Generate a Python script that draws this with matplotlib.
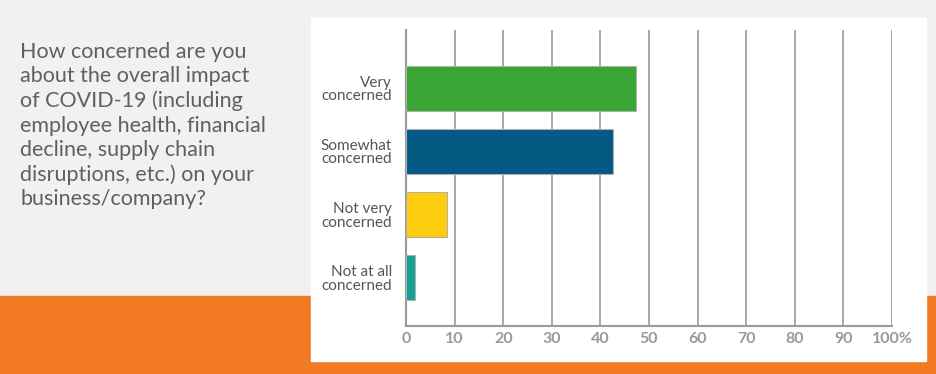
import matplotlib.pyplot as plt
from matplotlib.patches import Rectangle

# data
categories = ['Very\nconcerned', 'Somewhat\nconcerned', 'Not very\nconcerned', 'Not at all\nconcerned']
values = [47.3, 42.6, 8.4, 1.8]
colors = ['#3aa535', '#045a83', '#fecc0f', '#12a192']
ticks = [0, 10, 20, 30, 40, 50, 60, 70, 80, 90, 100]
tick_labels = ['0', '10', '20', '30', '40', '50', '60', '70', '80', '90', '100%']
question = ("How concerned are you\nabout the overall impact\nof COVID-19 (including\n"
            "employee health, financial\ndecline, supply chain\ndisruptions, etc.) on your\n"
            "business/company?")

W, H = 936, 374
fig = plt.figure(figsize=(W / 100, H / 100), dpi=100)
fig.patch.set_facecolor('#f1f1f1')

def px(x0, y0, x1, y1):
    # pixel box (top-left origin) -> figure coords
    return [x0 / W, 1 - y1 / H, (x1 - x0) / W, (y1 - y0) / H]

# orange band and white panel
b = px(0, 296, W, H)
fig.patches.append(Rectangle((b[0], b[1]), b[2], b[3], transform=fig.transFigure,
                             color='#f27a22', zorder=0))
p = px(311, 18, 926, 361)
fig.patches.append(Rectangle((p[0], p[1]), p[2], p[3], transform=fig.transFigure,
                             color='white', zorder=1))

fig.text(20 / W, 1 - 42 / H, question, ha='left', va='top', fontsize=15.5,
         color='#606060', family='Lato', linespacing=1.27)

ax = fig.add_axes(px(406, 30, 892, 326))
ax.set_facecolor('white')
ax.set_zorder(2)
ypos = list(range(len(categories)))
ax.barh(ypos, values, height=0.71, color=colors, edgecolor='#b0b0b0', linewidth=0.8, zorder=3)
ax.set_xlim(0, 100)
ax.set_ylim(3.76, -0.92)
ax.set_xticks(ticks)
ax.set_xticklabels(tick_labels, color='#999999', fontsize=11.5, fontweight='bold', family='Lato')
ax.set_yticks(ypos)
ax.set_yticklabels(categories, color='#555555', fontsize=11, family='Lato', linespacing=0.95)
ax.tick_params(length=0)
ax.tick_params(axis='x', pad=4)
ax.tick_params(axis='y', pad=10)
ax.grid(axis='x', color='#9a9a9a', linewidth=1.2, zorder=0)
for s in ['top', 'right']:
    ax.spines[s].set_visible(False)
for s in ['left', 'bottom']:
    ax.spines[s].set_color('#9a9a9a')
    ax.spines[s].set_linewidth(1.5)

fig.savefig('out.png', dpi=100, facecolor=fig.get_facecolor())
